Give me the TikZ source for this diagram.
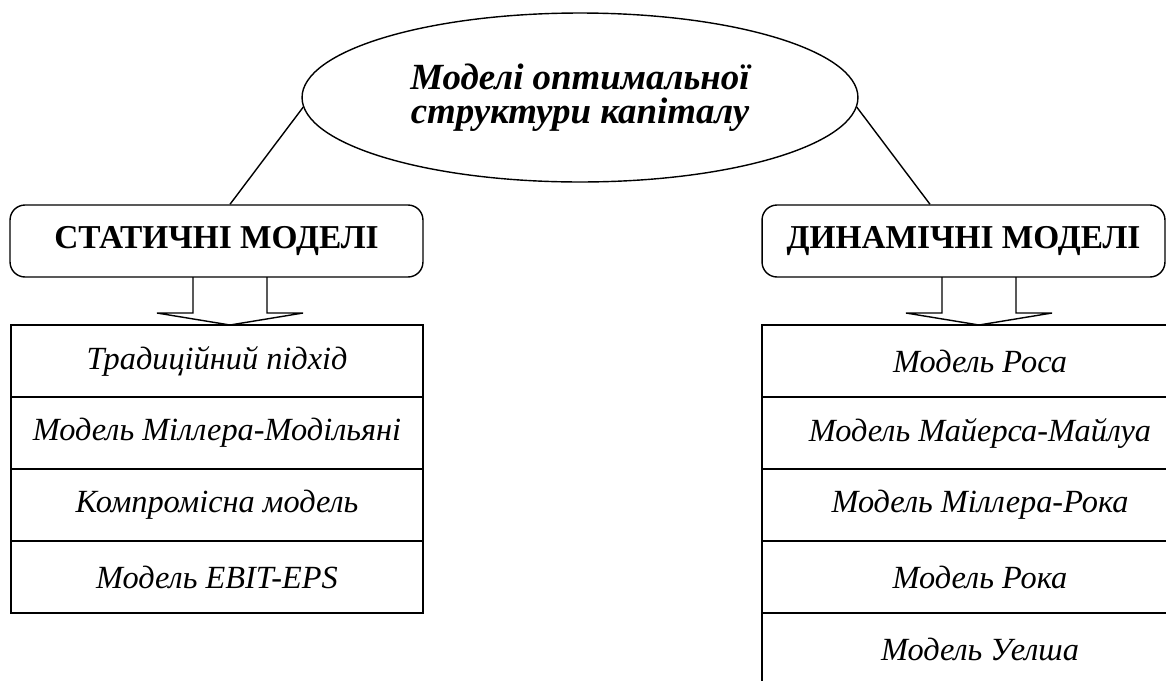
\documentclass[tikz,border=0pt]{standalone}
\usepackage{fontspec}
\setmainfont{Liberation Serif}
\usetikzlibrary{shapes.geometric}
\newcommand\sizeTitle{\fontsize{21pt}{19.5pt}\selectfont}
\newcommand\sizeGroup{\fontsize{19pt}{22pt}\selectfont}
\newcommand\sizeItem{\fontsize{18.4pt}{21pt}\selectfont}
\newcommand\rowHeight{72}
\newcommand\listTop{325}
\newcommand\drawBlockArrow[1]{
	\draw[line join=miter] (#1) ++(-37,-48) -- ++(0,36) -- ++(-36,0) -- (#1) -- ++(73,-12) -- ++(-36,0) -- ++(0,-36);
}

\begin{document}
\begin{tikzpicture}[x=0.02cm, y=-0.02cm, line width=0.8pt,
	titleshape/.style={draw, ellipse, minimum width=11.12cm, minimum height=3.38cm, inner sep=0pt, align=center, font=\sizeTitle\bfseries\itshape},
	groupbox/.style={draw, rounded corners=0.3cm, minimum height=1.44cm, inner sep=0pt, font=\sizeGroup\bfseries},
	itembox/.style={draw, minimum height=1.44cm, inner sep=0pt, font=\sizeItem\itshape}]
	\clip (0,0) rectangle (1166,680);

	\node[titleshape] (title) at (580,97.5) {Моделі оптимальної\\структури капіталу};
	\node[groupbox, minimum width=8.26cm] (static) at (216.5,241) {СТАТИЧНІ МОДЕЛІ};
	\node[groupbox, minimum width=8.06cm] (dynamic) at (963.5,241) {ДИНАМІЧНІ МОДЕЛІ};

	\draw (title.182) -- ([xshift=0.27cm]static.north);
	\draw (title.-2) -- ([xshift=-0.67cm]dynamic.north);

	% static models
	\foreach \t [count=\i] in {Традиційний підхід, Модель Міллера-Модільяні, Компромісна модель, Модель EBIT-EPS}{
		\node[itembox, minimum width=8.24cm] (s\i) at (217, {\listTop+\rowHeight*(\i-0.5)}) {\t};
	}
	% dynamic models
	\foreach \t [count=\i] in {Модель Роса, Модель Майерса-Майлуа, Модель Міллера-Рока, Модель Рока, Модель Уелша}{
		\node[itembox, minimum width=8.72cm] (d\i) at (980, {\listTop+\rowHeight*(\i-0.5)}) {\t};
	}

	\coordinate (sarrow) at (230,\listTop);
	\coordinate (darrow) at (979,\listTop);
	\drawBlockArrow{sarrow}
	\drawBlockArrow{darrow}
\end{tikzpicture}
\end{document}
